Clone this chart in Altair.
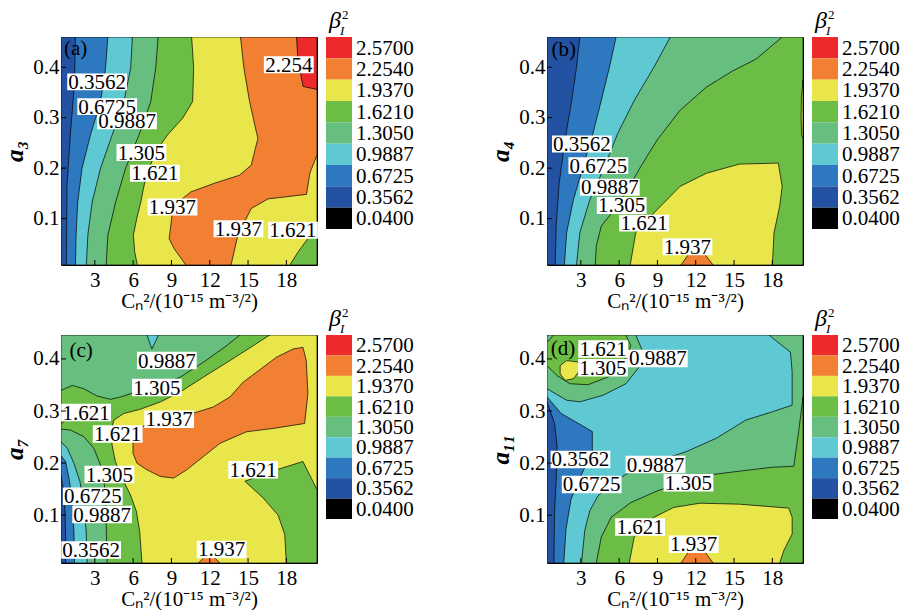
import altair as alt
import pandas as pd

FONT = "Liberation Serif"

# band colours (lowest -> highest)
DB, BL, CY, LG, GR, YE, OR, RD, BK = ("#2452A2", "#2E78BF", "#5EC8D3", "#66BF7F",
                                      "#6CBD45", "#E9E64C", "#F28033", "#EC2A2B", "#000000")

X_TICKS = [3, 6, 9, 12, 15, 18]
Y_TICKS = [0.1, 0.2, 0.3, 0.4]
X_DOMAIN = [0.35, 20.4]
Y_DOMAIN_TOP = [0.008, 0.46]
Y_DOMAIN_BOTTOM = [0.008, 0.446]

LEVEL_LABELS = ["2.5700", "2.2540", "1.9370", "1.6210", "1.3050", "0.9887", "0.6725", "0.3562", "0.0400"]
LEVEL_COLORS = [RD, OR, YE, GR, LG, CY, BL, DB, BK]

# ---- contour regions (C_n^2, a), painted in order ----
A_POLYS = [
    (DB, [(0.35, 0.008), (20.4, 0.008), (20.4, 0.46), (0.35, 0.46)]),
    (BL, [(1.48, 0.46), (1.40, 0.365), (1.08, 0.266), (0.82, 0.166), (0.77, 0.008), (20.4, 0.008), (20.4, 0.46)]),
    (CY, [(4.02, 0.46), (3.84, 0.399), (3.45, 0.332), (2.66, 0.266), (2.00, 0.200), (1.66, 0.133), (1.53, 0.067),
          (1.48, 0.008), (20.4, 0.008), (20.4, 0.46)]),
    (LG, [(5.94, 0.46), (5.81, 0.399), (5.28, 0.332), (4.36, 0.266), (3.45, 0.200), (2.79, 0.133), (2.45, 0.067),
          (2.34, 0.008), (20.4, 0.008), (20.4, 0.46)]),
    (GR, [(7.96, 0.46), (7.77, 0.399), (7.38, 0.332), (6.46, 0.266), (5.41, 0.200), (4.63, 0.133), (4.02, 0.067),
          (3.89, 0.008), (20.4, 0.008), (20.4, 0.46)]),
    (YE, [(10.58, 0.46), (10.74, 0.399), (10.66, 0.332), (9.88, 0.299), (8.70, 0.266), (7.78, 0.233), (7.26, 0.200),
          (6.86, 0.166), (6.60, 0.133), (6.28, 0.100), (6.02, 0.067), (6.12, 0.034), (6.33, 0.008), (18.27, 0.008),
          (18.92, 0.034), (19.70, 0.061), (20.4, 0.080), (20.4, 0.46)]),
    (OR, [(14.41, 0.46), (14.67, 0.399), (15.12, 0.332), (15.64, 0.273), (15.77, 0.259), (15.25, 0.206),
          (14.33, 0.186), (12.36, 0.170), (10.53, 0.153), (9.87, 0.140), (9.08, 0.113), (8.82, 0.060), (9.22, 0.040),
          (10.13, 0.008), (13.67, 0.008), (14.20, 0.067), (15.25, 0.120), (16.56, 0.139), (19.58, 0.148),
          (19.84, 0.190), (20.4, 0.226), (20.4, 0.46)]),
    (RD, [(18.79, 0.46), (18.92, 0.412), (19.31, 0.362), (20.4, 0.356), (20.4, 0.46)]),
]
B_POLYS = [
    (DB, [(0.35, 0.008), (20.4, 0.008), (20.4, 0.46), (0.35, 0.46)]),
    (BL, [(2.92, 0.46), (2.66, 0.400), (2.28, 0.334), (1.76, 0.256), (1.30, 0.170), (1.07, 0.085), (0.99, 0.008),
          (20.4, 0.008), (20.4, 0.46)]),
    (CY, [(5.76, 0.46), (5.24, 0.400), (4.60, 0.334), (3.95, 0.269), (3.18, 0.203), (2.41, 0.137), (1.89, 0.072),
          (1.71, 0.008), (20.4, 0.008), (20.4, 0.46)]),
    (LG, [(10.01, 0.46), (8.72, 0.400), (7.18, 0.334), (5.89, 0.269), (4.86, 0.203), (3.70, 0.137), (2.92, 0.072),
          (2.66, 0.008), (20.4, 0.008), (20.4, 0.46)]),
    (GR, [(18.77, 0.46), (16.71, 0.416), (14.91, 0.393), (12.85, 0.361), (10.78, 0.315), (8.98, 0.256),
          (7.69, 0.203), (6.66, 0.157), (5.63, 0.118), (4.60, 0.085), (4.21, 0.045), (4.13, 0.008), (20.4, 0.008),
          (20.4, 0.46)]),
    (YE, [(6.87, 0.008), (7.30, 0.072), (8.72, 0.111), (10.78, 0.164), (12.85, 0.190), (15.42, 0.208),
          (18.46, 0.210), (18.77, 0.164), (18.57, 0.124), (18.13, 0.072), (18.00, 0.008)]),
    (OR, [(10.84, 0.008), (11.43, 0.029), (12.72, 0.029), (13.36, 0.008)]),
    (YE, [(20.4, 0.375), (20.28, 0.34), (20.25, 0.30), (20.3, 0.265), (20.4, 0.26)]),
]
C_POLYS = [
    (YE, [(0.35, 0.008), (20.4, 0.008), (20.4, 0.446), (0.35, 0.446)]),
    (GR, [(0.35, 0.446), (16.70, 0.446), (15.40, 0.4254), (13.58, 0.3968), (11.50, 0.3650), (9.68, 0.3364),
          (8.12, 0.3174), (6.56, 0.3034), (5.26, 0.2951), (4.48, 0.2824), (4.27, 0.2601), (4.35, 0.2347),
          (4.61, 0.2029), (5.13, 0.1711), (5.78, 0.1394), (6.25, 0.1076), (6.51, 0.0694), (6.69, 0.008),
          (0.35, 0.008)]),
    (YE, [(0.35, 0.300), (0.62, 0.295), (0.71, 0.287), (0.53, 0.278), (0.35, 0.277)]),
    (LG, [(0.35, 0.446), (14.36, 0.446), (13.32, 0.4254), (11.50, 0.3936), (9.68, 0.3650), (7.86, 0.3460),
          (6.04, 0.3352), (5.00, 0.3269), (4.22, 0.3224), (3.18, 0.3288), (2.14, 0.3428), (1.23, 0.3491),
          (0.35, 0.3396)]),
    (CY, [(7.08, 0.446), (7.47, 0.419), (7.99, 0.446)]),
    (LG, [(0.35, 0.2652), (1.10, 0.2633), (2.14, 0.2506), (2.92, 0.2284), (3.44, 0.1966), (3.75, 0.1584),
          (3.86, 0.1076), (3.96, 0.008), (0.35, 0.008)]),
    (CY, [(0.35, 0.2411), (0.84, 0.2284), (1.36, 0.1997), (1.83, 0.1648), (2.14, 0.1203), (2.32, 0.0694),
          (2.40, 0.008), (0.35, 0.008)]),
    (BL, [(0.35, 0.2144), (0.71, 0.2029), (1.02, 0.1648), (1.23, 0.1203), (1.36, 0.0694), (1.41, 0.008),
          (0.35, 0.008)]),
    (DB, [(0.35, 0.1743), (0.53, 0.1521), (0.66, 0.1076), (0.71, 0.0567), (0.71, 0.008), (0.35, 0.008)]),
    (OR, [(5.99, 0.2506), (6.04, 0.2633), (7.60, 0.2792), (10.20, 0.2919), (12.28, 0.3078), (13.58, 0.3269),
          (14.62, 0.3555), (16.18, 0.3841), (17.22, 0.4032), (18.52, 0.4191), (19.30, 0.4222), (19.56, 0.3968),
          (19.69, 0.3333), (19.43, 0.2760), (16.96, 0.2665), (14.88, 0.2601), (12.80, 0.2379), (11.50, 0.2125),
          (10.20, 0.1870), (9.16, 0.1711), (8.12, 0.1743), (7.08, 0.1870), (6.30, 0.1997), (5.99, 0.2188)]),
    (GR, [(18.00, 0.008), (17.87, 0.063), (17.35, 0.100), (16.18, 0.133), (14.75, 0.165), (17.22, 0.187),
          (19.30, 0.203), (19.95, 0.171), (20.4, 0.149), (20.4, 0.008)]),
    (OR, [(11.11, 0.008), (11.63, 0.0205), (12.28, 0.0205), (12.80, 0.008)]),
]
D_POLYS = [
    (CY, [(0.35, 0.008), (20.4, 0.008), (20.4, 0.446), (0.35, 0.446)]),
    (LG, [(0.35, 0.446), (7.30, 0.446), (7.82, 0.4159), (7.56, 0.3841), (6.53, 0.3524), (4.73, 0.3302),
          (2.92, 0.3176), (1.89, 0.3207), (0.35, 0.3429)]),
    (GR, [(0.35, 0.4317), (0.86, 0.446), (6.53, 0.446), (6.92, 0.4254), (6.27, 0.3905), (5.11, 0.3651),
          (3.57, 0.3505), (2.15, 0.3524), (1.12, 0.3683), (0.35, 0.3873)]),
    (YE, [(1.38, 0.3715), (1.76, 0.3588), (2.41, 0.3620), (2.92, 0.3778), (2.92, 0.3937), (1.89, 0.3968),
          (1.38, 0.3873)]),
    (BL, [(0.35, 0.3271), (1.45, 0.2954), (3.90, 0.2605), (3.90, 0.2224), (3.00, 0.1749), (2.23, 0.1305),
          (1.84, 0.0734), (1.66, 0.008), (0.35, 0.008)]),
    (DB, [(0.35, 0.318), (0.94, 0.2763), (1.14, 0.2320), (1.07, 0.1686), (0.94, 0.1051), (0.89, 0.008),
          (0.35, 0.008)]),
    (LG, [(17.74, 0.446), (19.42, 0.4127), (19.55, 0.3746), (19.55, 0.3112), (18.00, 0.2985), (15.94, 0.2827),
          (13.62, 0.2478), (11.30, 0.2224), (8.98, 0.2034), (7.18, 0.1876), (5.63, 0.1654), (4.34, 0.1368),
          (3.70, 0.1083), (3.31, 0.0703), (3.05, 0.008), (20.4, 0.008), (20.4, 0.446)]),
    (GR, [(20.4, 0.3271), (20.06, 0.2605), (19.68, 0.1939), (18.00, 0.1920), (15.42, 0.1844), (13.36, 0.1781),
          (11.30, 0.1654), (8.98, 0.1464), (6.92, 0.1242), (5.37, 0.0956), (4.60, 0.0576), (4.21, 0.008),
          (20.4, 0.008)]),
    (YE, [(6.79, 0.008), (7.18, 0.0576), (8.72, 0.0956), (10.27, 0.1147), (12.33, 0.1229), (15.42, 0.1210),
          (19.29, 0.1134), (19.55, 0.0956), (19.55, 0.0639), (18.90, 0.0322), (18.57, 0.008)]),
    (OR, [(10.84, 0.008), (11.43, 0.029), (12.72, 0.029), (13.36, 0.008)]),
]

# ---- contour labels (text, C_n^2, a) ----
A_LABELS = [("0.3562", 3.18, 0.371), ("0.6725", 3.97, 0.322), ("0.9887", 5.52, 0.294), ("1.305", 6.65, 0.231),
            ("1.621", 7.70, 0.190), ("1.937", 9.08, 0.123), ("1.937", 14.25, 0.080), ("1.621", 18.52, 0.077),
            ("2.254", 18.19, 0.405)]
B_LABELS = [("0.3562", 3.08, 0.248), ("0.6725", 4.37, 0.205), ("0.9887", 5.27, 0.162), ("1.305", 6.20, 0.126),
            ("1.621", 7.95, 0.091), ("1.937", 11.35, 0.044)]
C_LABELS = [("0.9887", 8.64, 0.397), ("1.305", 7.86, 0.345), ("1.621", 2.32, 0.297), ("1.937", 8.82, 0.284),
            ("1.621", 4.79, 0.256), ("1.305", 4.14, 0.178), ("1.621", 15.40, 0.187), ("0.6725", 2.84, 0.136),
            ("0.9887", 3.57, 0.101), ("0.3562", 2.71, 0.033), ("1.937", 12.93, 0.034)]
D_LABELS = [("1.621", 4.75, 0.419), ("1.305", 4.73, 0.383), ("0.9887", 9.03, 0.401), ("0.3562", 2.97, 0.207),
            ("0.9887", 8.85, 0.197), ("0.6725", 3.85, 0.159), ("1.305", 11.43, 0.162), ("1.621", 7.64, 0.077),
            ("1.937", 11.84, 0.044)]

PANEL_LETTERS = [("(a)", 1.49, 0.437), ("(b)", 1.67, 0.434), ("(c)", 1.92, 0.415), ("(d)", 1.60, 0.419)]
Y_TITLES = ["a\u2083", "a\u2084", "a\u2087", "a\u2081\u2081"]
X_TITLE = "C\u2099\u00b2/(10\u207b\u00b9\u2075 m\u207b\u00b3/\u00b2)"

W, H = 256, 228


def panel(polys, labels, letter, ydom, ytitle, cb_h):
    rows = []
    for k, (col, pts) in enumerate(polys):
        for i, (x, y) in enumerate(pts):
            rows.append({"pid": "p%02d" % k, "i": i, "x": x, "y": y, "col": col})
    df = pd.DataFrame(rows)
    xs = alt.Scale(domain=X_DOMAIN, nice=False, zero=False)
    ys = alt.Scale(domain=ydom, nice=False, zero=False)
    xax = alt.Axis(values=X_TICKS, title=X_TITLE, format="d")
    yax = alt.Axis(values=Y_TICKS, title=ytitle, format=".1f", titleFontStyle="italic",
                   titleFontWeight="bold", titleFontSize=25)

    poly = alt.Chart(df).mark_line(interpolate="linear-closed", stroke="black", strokeWidth=0.7,
                                   clip=True).encode(
        x=alt.X("x:Q", scale=xs, axis=xax),
        y=alt.Y("y:Q", scale=ys, axis=yax),
        detail="pid:N",
        order="i:Q",
        fill=alt.Fill("col:N", scale=None),
    )
    ldf = pd.DataFrame(labels, columns=["t", "x", "y"])
    box = alt.Chart(ldf).transform_calculate(
        x1="datum.x - length(datum.t) * 0.39", x2="datum.x + length(datum.t) * 0.39",
        y1="datum.y - 0.0168", y2="datum.y + 0.0168",
    ).mark_rect(fill="white").encode(
        x=alt.X("x1:Q", scale=xs, axis=xax), x2="x2:Q",
        y=alt.Y("y1:Q", scale=ys, axis=yax), y2="y2:Q",
    )
    txt = alt.Chart(ldf).mark_text(font=FONT, fontSize=21, baseline="middle", align="center",
                                   color="black", dy=1).encode(
        x=alt.X("x:Q", scale=xs, axis=xax), y=alt.Y("y:Q", scale=ys, axis=yax), text="t:N")
    let = alt.Chart(pd.DataFrame([letter], columns=["t", "x", "y"])).mark_text(
        font=FONT, fontSize=21, baseline="middle", align="center", color="black").encode(
        x=alt.X("x:Q", scale=xs, axis=xax), y=alt.Y("y:Q", scale=ys, axis=yax), text="t:N")
    xt = alt.Chart(pd.DataFrame({"v": X_TICKS})).mark_rule(color="black", strokeWidth=1).encode(
        x=alt.X("v:Q", scale=xs, axis=xax), y=alt.value(H), y2=alt.value(H - 5))
    yt = alt.Chart(pd.DataFrame({"v": Y_TICKS})).mark_rule(color="black", strokeWidth=1).encode(
        y=alt.Y("v:Q", scale=ys, axis=yax), x=alt.value(0), x2=alt.value(5))
    main = alt.layer(poly, box, txt, let, xt, yt)

    cdf = pd.DataFrame({"lab": LEVEL_LABELS, "col": LEVEL_COLORS, "k": list(range(9))})
    cdf["k1"] = cdf["k"] + 1
    cdf["km"] = cdf["k"] + 0.5
    cs = alt.Scale(domain=[0, 9], range=[0, cb_h])
    cb_rect = alt.Chart(cdf).mark_rect().encode(
        y=alt.Y("k:Q", scale=cs, axis=None), y2="k1:Q",
        x=alt.value(265), x2=alt.value(291), fill=alt.Fill("col:N", scale=None))
    cb_text = alt.Chart(cdf).mark_text(font=FONT, fontSize=21, align="left", baseline="middle",
                                       color="black", dy=1).encode(
        y=alt.Y("km:Q", scale=cs, axis=None), x=alt.value(295), text="lab:N")
    beta = alt.Chart(pd.DataFrame({"t": ["\u03b2"]})).mark_text(
        font=FONT, fontSize=24, fontStyle="italic", align="left", baseline="alphabetic", color="black").encode(
        x=alt.value(268), y=alt.value(-9), text="t:N")
    sup = alt.Chart(pd.DataFrame({"t": ["2"]})).mark_text(
        font=FONT, fontSize=13, align="left", baseline="alphabetic", color="black").encode(
        x=alt.value(281), y=alt.value(-18), text="t:N")
    sub = alt.Chart(pd.DataFrame({"t": ["I"]})).mark_text(
        font=FONT, fontSize=13, fontStyle="italic", align="left", baseline="alphabetic", color="black").encode(
        x=alt.value(279), y=alt.value(-2), text="t:N")
    cb = alt.layer(cb_rect, cb_text, beta, sup, sub)

    return alt.layer(main, cb).resolve_scale(y="independent").properties(width=W, height=H)


pa = panel(A_POLYS, A_LABELS, PANEL_LETTERS[0], Y_DOMAIN_TOP, Y_TITLES[0], 192)
pb = panel(B_POLYS, B_LABELS, PANEL_LETTERS[1], Y_DOMAIN_TOP, Y_TITLES[1], 192)
pc = panel(C_POLYS, C_LABELS, PANEL_LETTERS[2], Y_DOMAIN_BOTTOM, Y_TITLES[2], 184)
pd_ = panel(D_POLYS, D_LABELS, PANEL_LETTERS[3], Y_DOMAIN_BOTTOM, Y_TITLES[3], 184)

chart = alt.concat(pa, pb, pc, pd_, columns=2, spacing={"row": 70, "column": 230}, bounds="flush").properties(
    padding={"left": 2, "top": 8, "right": 0, "bottom": 0}
).configure_view(
    stroke="black", strokeWidth=1
).configure_axis(
    ticks=False, domain=False, grid=False,
    labelFont=FONT, labelFontSize=21, labelColor="black",
    titleFont=FONT, titleFontSize=21, titleColor="black", titleFontWeight="normal",
).configure_axisX(
    labelPadding=4, titlePadding=0
).configure_axisY(
    labelPadding=2, titlePadding=5
)

chart.save("out.html", embed_options={"renderer": "svg", "actions": False})
